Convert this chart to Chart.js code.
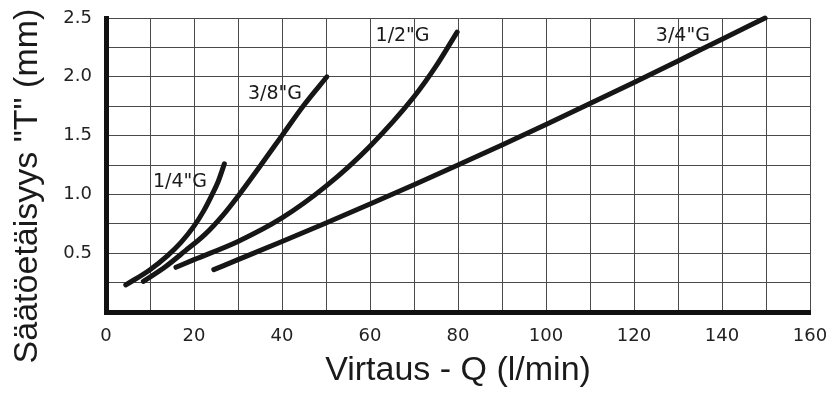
<!DOCTYPE html>
<html><head><meta charset="utf-8">
<script src="https://cdn.jsdelivr.net/npm/chart.js@4"></script>
<style>html,body{margin:0;padding:0;background:#fff}#wrap{width:832px;height:393px}</style>
</head><body><div id="wrap"><canvas id="c" width="832" height="393"></canvas></div>
<script>
// Series names (thread sizes)
const seriesNames = ['1/4"G', '3/8"G', '1/2"G', '3/4"G'];

// Flow Q (l/min) and setting distance T (mm) for each series
const q14 = [4.5, 10, 14, 17, 20, 22.2, 24.0, 25.5, 26.9];
const t14 = [0.23, 0.36, 0.48, 0.59, 0.73, 0.86, 0.99, 1.11, 1.26];

const q38 = [8.5, 13.5, 18, 22.5, 26.5, 30.3, 35.0, 40.0, 45.0, 50.2];
const t38 = [0.26, 0.385, 0.52, 0.66, 0.82, 1.0, 1.24, 1.5, 1.76, 2.0];

const q12 = [15.9, 20, 30, 40, 50, 60, 70, 75, 79.8];
const t12 = [0.38, 0.445, 0.60, 0.80, 1.07, 1.41, 1.83, 2.09, 2.38];

const q34 = [24.5, 30, 40, 50, 60, 70, 80, 90, 100, 110, 120, 130, 140, 149.8];
const t34 = [0.36, 0.445, 0.60, 0.757, 0.918, 1.082, 1.25, 1.42, 1.595, 1.772, 1.952, 2.135, 2.32, 2.5];

// Where each series label sits (data units)
const labelQ = [16.8, 38.4, 67.4, 131.1];
const labelT = [1.105, 1.854, 2.343, 2.345];

// Axis texts
const xTitle = 'Virtaus - Q (l/min)';
const yTitle = 'Säätöetäisyys "T" (mm)';

const qs = [q14, q38, q12, q34];
const ts = [t14, t38, t12, t34];

const datasets = seriesNames.map((name, i) => ({
  label: name,
  data: qs[i].map((q, j) => ({ x: q, y: ts[i][j] })),
  borderColor: '#161616',
  borderWidth: 5,
  borderCapStyle: 'round',
  borderJoinStyle: 'round',
  pointRadius: 0,
  fill: false,
  cubicInterpolationMode: 'monotone',
  clip: 10
}));

const seriesLabelPlugin = {
  id: 'seriesLabels',
  afterDatasetsDraw(chart) {
    const { ctx, scales: { x, y } } = chart;
    ctx.save();
    ctx.font = '19px "DejaVu Sans"';
    ctx.fillStyle = '#1a1a1a';
    ctx.textAlign = 'center';
    ctx.textBaseline = 'middle';
    seriesNames.forEach((n, i) => {
      ctx.fillText(n, x.getPixelForValue(labelQ[i]), y.getPixelForValue(labelT[i]));
    });
    ctx.restore();
  }
};

const yTitlePlugin = {
  id: 'yTitle',
  afterDraw(chart) {
    const { ctx } = chart;
    ctx.save();
    ctx.translate(28, 186);
    ctx.rotate(-Math.PI / 2);
    ctx.font = '34px "Liberation Sans"';
    ctx.fillStyle = '#1a1a1a';
    ctx.textAlign = 'center';
    ctx.textBaseline = 'middle';
    ctx.fillText(yTitle, 0, 0);
    ctx.restore();
  }
};

new Chart(document.getElementById('c'), {
  type: 'line',
  data: { datasets },
  options: {
    responsive: false,
    devicePixelRatio: 1,
    animation: false,
    layout: { padding: { top: 18, right: 22, left: 0, bottom: 0 } },
    plugins: { legend: { display: false }, tooltip: { enabled: false } },
    scales: {
      x: {
        type: 'linear',
        min: 0, max: 160,
        afterFit: s => { s.height = 81; s.paddingLeft = 0; s.paddingRight = 0; },
        grid: { color: '#4a4a4a', lineWidth: 1, drawTicks: false },
        border: { color: '#111', width: 5 },
        ticks: {
          stepSize: 10, autoSkip: false, maxRotation: 0, padding: 14,
          color: '#222', font: { family: 'DejaVu Sans', size: 18 },
          callback: v => (v % 20 === 0 ? String(v) : '')
        },
        title: {
          display: true, text: xTitle, color: '#1a1a1a',
          font: { family: 'Liberation Sans', size: 34 },
          padding: { top: 0, bottom: 2 }
        }
      },
      y: {
        type: 'linear',
        min: 0, max: 2.5,
        afterFit: s => { s.width = 106; s.paddingTop = 0; s.paddingBottom = 0; },
        grid: { color: '#4a4a4a', lineWidth: 1, drawTicks: false },
        border: { color: '#111', width: 5 },
        ticks: {
          stepSize: 0.25, autoSkip: false, padding: 14,
          color: '#222', font: { family: 'DejaVu Sans', size: 18 },
          callback: v => (v > 0 && Math.abs(v * 2 - Math.round(v * 2)) < 1e-6 ? v.toFixed(1) : '')
        }
      }
    }
  },
  plugins: [seriesLabelPlugin, yTitlePlugin]
});
</script>
</body></html>
